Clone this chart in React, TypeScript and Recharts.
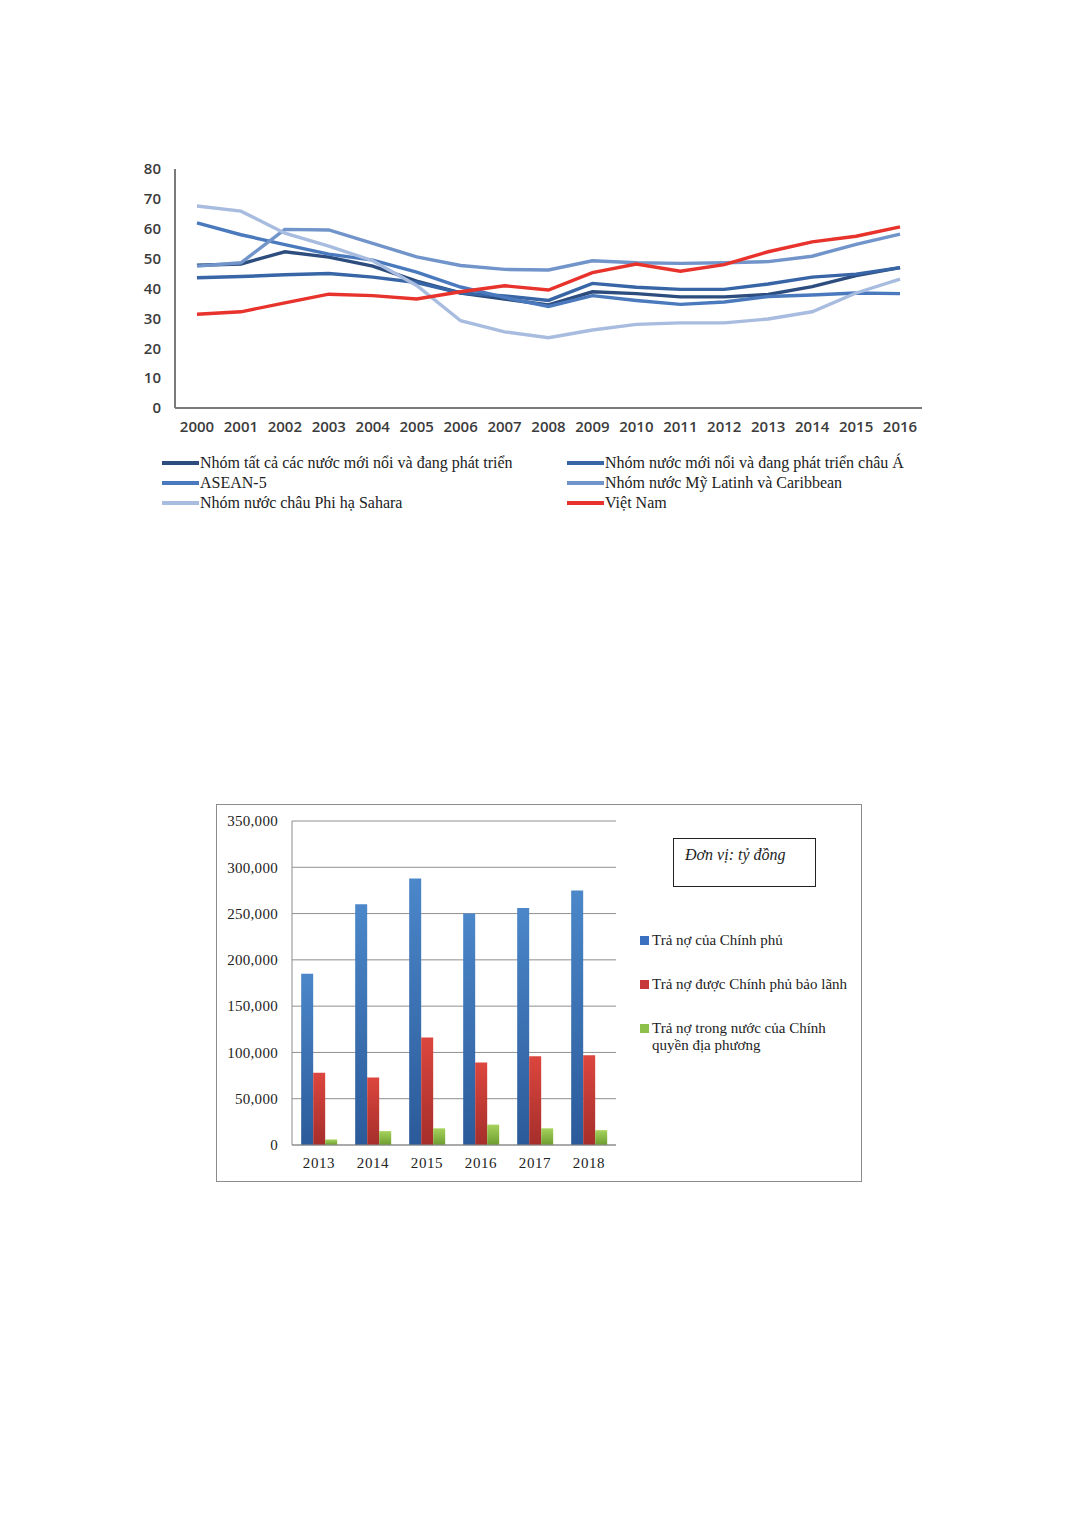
import React from "react";
import { LineChart, Line, XAxis, YAxis, BarChart, Bar, CartesianGrid } from "recharts";

// ---- chart 1: public debt, % GDP ----
const years = [2000, 2001, 2002, 2003, 2004, 2005, 2006, 2007, 2008, 2009, 2010, 2011, 2012, 2013, 2014, 2015, 2016];
const emdeAll = [47.8, 48.2, 52.3, 50.5, 47.5, 42.5, 38.5, 36.5, 34.5, 38.9, 38.3, 37.2, 37.2, 38.0, 40.6, 44.3, 47.0];
const emdeAsia = [43.6, 44.0, 44.6, 45.0, 43.8, 42.0, 38.5, 37.5, 36.0, 41.7, 40.4, 39.7, 39.7, 41.5, 43.8, 44.8, 47.0];
const asean5 = [62.0, 58.0, 54.7, 51.5, 49.5, 45.5, 40.5, 37.0, 34.0, 37.6, 36.0, 34.7, 35.5, 37.3, 37.8, 38.5, 38.3];
const latam = [47.5, 48.6, 59.8, 59.6, 55.1, 50.6, 47.7, 46.4, 46.2, 49.3, 48.6, 48.4, 48.6, 49.0, 50.8, 54.8, 58.2];
const ssAfrica = [67.6, 65.9, 58.5, 54.2, 49.3, 41.0, 29.2, 25.5, 23.5, 26.1, 28.0, 28.5, 28.5, 29.8, 32.2, 38.5, 43.1];
const vietnam = [31.4, 32.2, 35.2, 38.1, 37.6, 36.5, 38.9, 40.9, 39.5, 45.3, 48.2, 45.8, 48.0, 52.3, 55.6, 57.5, 60.6];
const debtTicks = [0, 10, 20, 30, 40, 50, 60, 70, 80];

const lineSeries = [
  { key: "emdeAll", name: "Nhóm tất cả các nước mới nổi và đang phát triển", color: "#2c4d7e", values: emdeAll },
  { key: "emdeAsia", name: "Nhóm nước mới nổi và đang phát triển châu Á", color: "#3765a6", values: emdeAsia },
  { key: "asean5", name: "ASEAN-5", color: "#4a7abd", values: asean5 },
  { key: "latam", name: "Nhóm nước Mỹ Latinh và Caribbean", color: "#7194ca", values: latam },
  { key: "ssAfrica", name: "Nhóm nước châu Phi hạ Sahara", color: "#a8bcdf", values: ssAfrica },
  { key: "vietnam", name: "Việt Nam", color: "#e8322c", values: vietnam },
];

const debtRows = years.map((year, i) => {
  const row: Record<string, number> = { year };
  lineSeries.forEach((s) => (row[s.key] = s.values[i]));
  return row;
});
const yearBounds = [...years.map((y) => y - 0.5), years[years.length - 1] + 0.5];

// ---- chart 2: debt repayment, billion VND ----
const repayYears = ["2013", "2014", "2015", "2016", "2017", "2018"];
const govRepay = [185000, 260000, 288000, 250000, 256000, 275000];
const guaranteedRepay = [78000, 73000, 116000, 89000, 96000, 97000];
const localRepay = [6000, 15000, 18000, 22000, 18000, 16000];
const repayTicks = [0, 50000, 100000, 150000, 200000, 250000, 300000, 350000];

const barSeries = [
  { key: "gov", name: "Trả nợ của Chính phủ", top: "#4b87c9", bottom: "#2b5a9a", swatch: "#3a70c0", values: govRepay },
  { key: "guaranteed", name: "Trả nợ được Chính phủ bảo lãnh", top: "#dc463e", bottom: "#a52e2b", swatch: "#c8383a", values: guaranteedRepay },
  { key: "local", name: "Trả nợ trong nước của Chính quyền địa phương", top: "#a6d25c", bottom: "#6d9d30", swatch: "#8cc04a", values: localRepay },
];

const repayRows = repayYears.map((year, i) => {
  const row: Record<string, string | number> = { year };
  barSeries.forEach((s) => (row[s.key] = s.values[i]));
  return row;
});
const bandBounds = repayYears.map((_, i) => i).concat(repayYears.length);

const sansTick = { fill: "#3c3c3c", fontSize: 15, fontFamily: "Open Sans", fontWeight: 600 };
const serifTick = { fill: "#222", fontSize: 15, fontFamily: "Liberation Serif" };

export default function App() {
  return (
    <div style={{ position: "absolute", left: 0, top: 0, width: 1078, height: 1532, background: "#fff" }}>
      <div style={{ position: "absolute", left: 120, top: 150 }}>
        <LineChart width={820} height={294} data={debtRows} margin={{ top: 19, right: 18, left: 0, bottom: 0 }}>
          {/* tick marks sit between the years, so they get their own axis */}
          <XAxis
            xAxisId="marks"
            type="number"
            dataKey="year"
            domain={[1999.5, 2016.5]}
            allowDataOverflow
            ticks={yearBounds}
            tick={false}
            height={1}
            axisLine={{ stroke: "#7a7a7a", strokeWidth: 2 }}
            tickLine={{ stroke: "#7a7a7a", strokeWidth: 1.5 }}
            tickSize={7}
          />
          <XAxis
            xAxisId="years"
            type="number"
            dataKey="year"
            domain={[1999.5, 2016.5]}
            allowDataOverflow
            ticks={years}
            interval={0}
            axisLine={false}
            tickLine={false}
            tickMargin={6}
            height={35}
            tick={sansTick}
          />
          <YAxis
            type="number"
            domain={[0, 80]}
            ticks={debtTicks}
            interval={0}
            width={55}
            axisLine={{ stroke: "#7a7a7a", strokeWidth: 2 }}
            tickLine={false}
            tickMargin={8}
            tick={sansTick}
          />
          {lineSeries.map((s) => (
            <Line
              key={s.key}
              xAxisId="years"
              type="linear"
              dataKey={s.key}
              name={s.name}
              stroke={s.color}
              strokeWidth={3.4}
              dot={false}
              isAnimationActive={false}
            />
          ))}
        </LineChart>
      </div>

      <div
        style={{
          position: "absolute",
          left: 162,
          top: 453,
          display: "grid",
          gridTemplateColumns: "405px 370px",
          fontFamily: "Liberation Serif",
          fontSize: 16,
          color: "#222",
        }}
      >
        {lineSeries.map((s) => (
          <div key={s.key} style={{ display: "flex", alignItems: "center", height: 20, whiteSpace: "nowrap" }}>
            <span style={{ display: "inline-block", width: 37, height: 3.5, background: s.color, marginRight: 1 }} />
            <span>{s.name}</span>
          </div>
        ))}
      </div>

      <div
        style={{
          position: "absolute",
          left: 216,
          top: 804,
          width: 646,
          height: 378,
          border: "1px solid #8c8c8c",
          boxSizing: "border-box",
          background: "#fff",
        }}
      >
        <BarChart
          width={420}
          height={373}
          data={repayRows}
          margin={{ top: 16, right: 21, left: 0, bottom: 2 }}
          barCategoryGap="17%"
          barGap={0}
        >
          <defs>
            {barSeries.map((s) => (
              <linearGradient key={s.key} id={"grad-" + s.key} x1="0" y1="0" x2="0" y2="1">
                <stop offset="0%" stopColor={s.top} />
                <stop offset="100%" stopColor={s.bottom} />
              </linearGradient>
            ))}
          </defs>
          <CartesianGrid xAxisId="years" vertical={false} stroke="#8f8f8f" />
          <XAxis
            xAxisId="bounds"
            type="number"
            domain={[0, repayYears.length]}
            allowDataOverflow
            ticks={bandBounds}
            tick={false}
            height={1}
            axisLine={{ stroke: "#8c8c8c" }}
            tickLine={{ stroke: "#b5b5b5" }}
            tickSize={7}
          />
          <XAxis
            xAxisId="years"
            dataKey="year"
            interval={0}
            axisLine={false}
            tickLine={false}
            tickMargin={5}
            height={30}
            tick={{ ...serifTick, letterSpacing: 0.6 }}
          />
          <YAxis
            type="number"
            domain={[0, 350000]}
            ticks={repayTicks}
            interval={0}
            width={75}
            axisLine={{ stroke: "#8c8c8c" }}
            tickLine={false}
            tickMargin={8}
            tick={{ ...serifTick, letterSpacing: 0.3 }}
            tickFormatter={(v: number) => v.toLocaleString("en-US")}
          />
          {barSeries.map((s) => (
            <Bar
              key={s.key}
              xAxisId="years"
              dataKey={s.key}
              name={s.name}
              fill={"url(#grad-" + s.key + ")"}
              isAnimationActive={false}
            />
          ))}
        </BarChart>

        <div
          style={{
            position: "absolute",
            left: 456,
            top: 33,
            width: 143,
            height: 49,
            border: "1px solid #222",
            boxSizing: "border-box",
            fontFamily: "Liberation Serif",
            fontStyle: "italic",
            fontSize: 16,
            color: "#222",
            paddingLeft: 11,
            paddingTop: 7,
          }}
        >
          Đơn vị: tỷ đồng
        </div>

        <div style={{ position: "absolute", left: 423, top: 127, fontFamily: "Liberation Serif", fontSize: 15, color: "#222" }}>
          {barSeries.map((s) => (
            <div key={s.key} style={{ display: "flex", alignItems: "flex-start", height: 44, lineHeight: "17px" }}>
              <span style={{ display: "inline-block", width: 9, height: 9, background: s.swatch, marginTop: 4, marginRight: 3, flex: "none" }} />
              <span style={{ width: 200 }}>{s.name}</span>
            </div>
          ))}
        </div>
      </div>
    </div>
  );
}
